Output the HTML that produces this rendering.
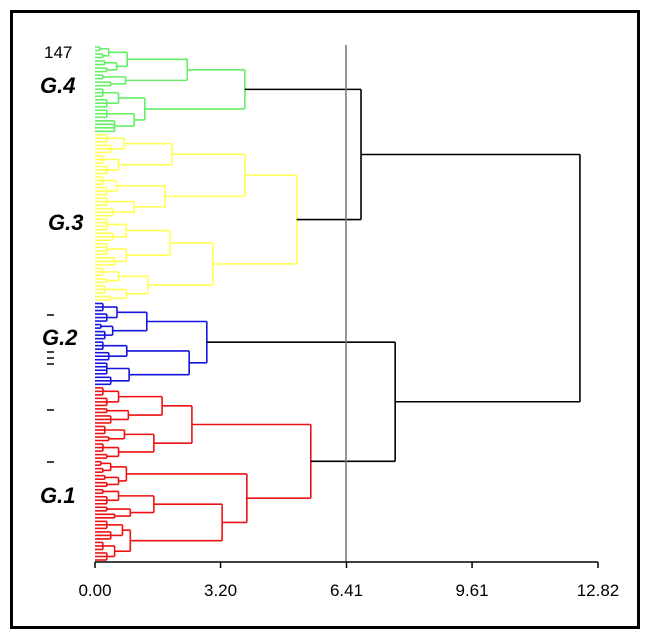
<!DOCTYPE html>
<html><head><meta charset="utf-8"><style>
html,body{margin:0;padding:0;background:#fff;}
svg{display:block;font-family:"Liberation Sans",Arial,sans-serif;}
</style></head><body>
<svg id="chart" width="650" height="639" viewBox="0 0 650 639">
<rect x="11.5" y="11.5" width="627" height="616" fill="#fff" stroke="#000" stroke-width="3"/>
<g id="marks"></g>
<line x1="346" y1="45" x2="346" y2="562" stroke="#777" stroke-width="1.5"/>
<g id="axis"></g>
<text x="44" y="58" font-size="17">147</text>
<text x="40" y="93" font-size="22" font-weight="bold" font-style="italic">G.4</text>
<text x="48" y="230" font-size="22" font-weight="bold" font-style="italic">G.3</text>
<text x="42" y="345" font-size="22" font-weight="bold" font-style="italic">G.2</text>
<text x="40" y="503" font-size="22" font-weight="bold" font-style="italic">G.1</text>
<g stroke="#000" stroke-width="1.5">
<line x1="47" y1="315" x2="54" y2="315"/><line x1="47" y1="352" x2="54" y2="352"/><line x1="47" y1="358" x2="54" y2="358"/><line x1="47" y1="364" x2="54" y2="364"/><line x1="47" y1="462" x2="54" y2="462"/><line x1="47" y1="410" x2="54" y2="410"/>
</g>
</svg>
<script>
const ticks = [0, 3.20, 6.41, 9.61, 12.82];
const tickLabels = ["0.00", "3.20", "6.41", "9.61", "12.82"];
const groupColors = ["#66ee66", "#ffff55", "#1515dd", "#ee1111"];
const groupNames = ["g4", "g3", "g2", "g1"];
const rootHeight = 12.36;
const upperHeight = 6.78;
const lowerHeight = 7.65;
const g4 = [3.82, [2.35, [0.82, [0.35,[0.12,2],[0.2,2]], [0.55,[0.25,2],[0.3,2]]], [0.78,[0.2,2],[0.4,2]]],
                  [1.27, [0.6,[0.2,3],[0.3,3]], [1.0,[0.3,3],[0.5,4]]]];
const g3 = [5.14, [3.82, [1.96,[0.75,[0.3,3],[0.4,3]],[0.6,[0.2,3],[0.3,3]]], [1.79,[0.55,[0.2,3],[0.3,3]],[1.0,[0.3,3],[0.45,3]]]],
                  [3.0, [1.91,[0.8,[0.3,4],[0.45,3]],[0.8,[0.3,4],[0.5,3]]], [1.35,[0.6,[0.2,3],[0.3,2]],[0.8,[0.25,3],[0.4,2]]]]];
const g2 = [2.85, [1.32,[0.56,[0.2,3],[0.3,3]],[0.45,[0.15,2],[0.25,3]]], [2.4,[0.81,[0.2,3],[0.35,3]],[0.87,[0.3,4],[0.4,3]]]];
const g1 = [5.5, [2.47, [1.71,[0.6,[0.2,3],[0.3,3]],[0.85,[0.3,2],[0.4,3]]], [1.5,[0.75,[0.25,3],[0.35,2]],[0.6,[0.2,3],[0.3,2]]]],
                 [3.87, [0.8,[0.4,[0.15,2],[0.2,2]],[0.6,[0.25,2],[0.3,2]]],
                        [3.24,[1.5,[0.6,[0.2,2],[0.3,3]],[0.9,[0.3,2],[0.5,2]]],[0.9,[0.7,[0.3,3],[0.4,3]],[0.5,[0.2,3],[0.3,3]]]]]];
const totalLeaves = 147;

const X0 = 95, X1 = 598, Y0 = 47, Y1 = 560;
const xs = v => X0 + v * (X1 - X0) / 12.82;
const leafStep = (Y1 - Y0) / (totalLeaves - 1);
const NS = "http://www.w3.org/2000/svg";
const marks = document.getElementById("marks");
let leafIdx = 0;

function seg(x1, y1, x2, y2, color, name) {
  const l = document.createElementNS(NS, "line");
  l.setAttribute("x1", x1); l.setAttribute("y1", y1);
  l.setAttribute("x2", x2); l.setAttribute("y2", y2);
  l.setAttribute("stroke", color); l.setAttribute("stroke-width", "1.6");
  
  
  marks.appendChild(l);
}
function draw(node, color, name) {
  const h = node[0];
  if (typeof node[1] === "number") {
    const n = node[1], ys = [];
    for (let i = 0; i < n; i++) {
      const y = Y0 + leafIdx * leafStep; leafIdx++;
      ys.push(y);
      seg(xs(0), y, xs(h), y, color, name + "-leaf");
    }
    seg(xs(h), ys[0], xs(h), ys[n - 1], color, name + "-merge");
    return (ys[0] + ys[n - 1]) / 2;
  }
  const ya = draw(node[1], color, name), yb = draw(node[2], color, name);
  const ha = node[1][0], hb = node[2][0];
  seg(xs(ha), ya, xs(h), ya, color, name + "-link");
  seg(xs(hb), yb, xs(h), yb, color, name + "-link");
  seg(xs(h), ya, xs(h), yb, color, name + "-merge");
  return (ya + yb) / 2;
}
const groups = [g4, g3, g2, g1];
const gy = groups.map((g, i) => draw(g, groupColors[i], "cluster-" + groupNames[i]));
function join(ya, ha, yb, hb, h, name) {
  seg(xs(ha), ya, xs(h), ya, "#000", name);
  seg(xs(hb), yb, xs(h), yb, "#000", name);
  seg(xs(h), ya, xs(h), yb, "#000", name);
  return (ya + yb) / 2;
}
const yu = join(gy[0], g4[0], gy[1], g3[0], upperHeight, "upper-join");
const yl = join(gy[2], g2[0], gy[3], g1[0], lowerHeight, "lower-join");
join(yu, upperHeight, yl, lowerHeight, rootHeight, "root-join");

const axis = document.getElementById("axis");
const ay = 562;
let al = document.createElementNS(NS, "line");
al.setAttribute("x1", X0); al.setAttribute("x2", X1); al.setAttribute("y1", ay); al.setAttribute("y2", ay);
al.setAttribute("stroke", "#000"); al.setAttribute("stroke-width", "1.5");


axis.appendChild(al);
ticks.forEach((t, i) => {
  const tl = document.createElementNS(NS, "line");
  tl.setAttribute("x1", xs(t)); tl.setAttribute("x2", xs(t));
  tl.setAttribute("y1", ay); tl.setAttribute("y2", ay + 6);
  tl.setAttribute("stroke", "#000"); tl.setAttribute("stroke-width", "1.5");
  
  
  axis.appendChild(tl);
  const tx = document.createElementNS(NS, "text");
  tx.setAttribute("x", xs(t)); tx.setAttribute("y", ay + 34);
  tx.setAttribute("text-anchor", "middle"); tx.setAttribute("font-size", "17");
  tx.textContent = tickLabels[i];
  
  
  axis.appendChild(tx);
});
</script>
</body></html>
